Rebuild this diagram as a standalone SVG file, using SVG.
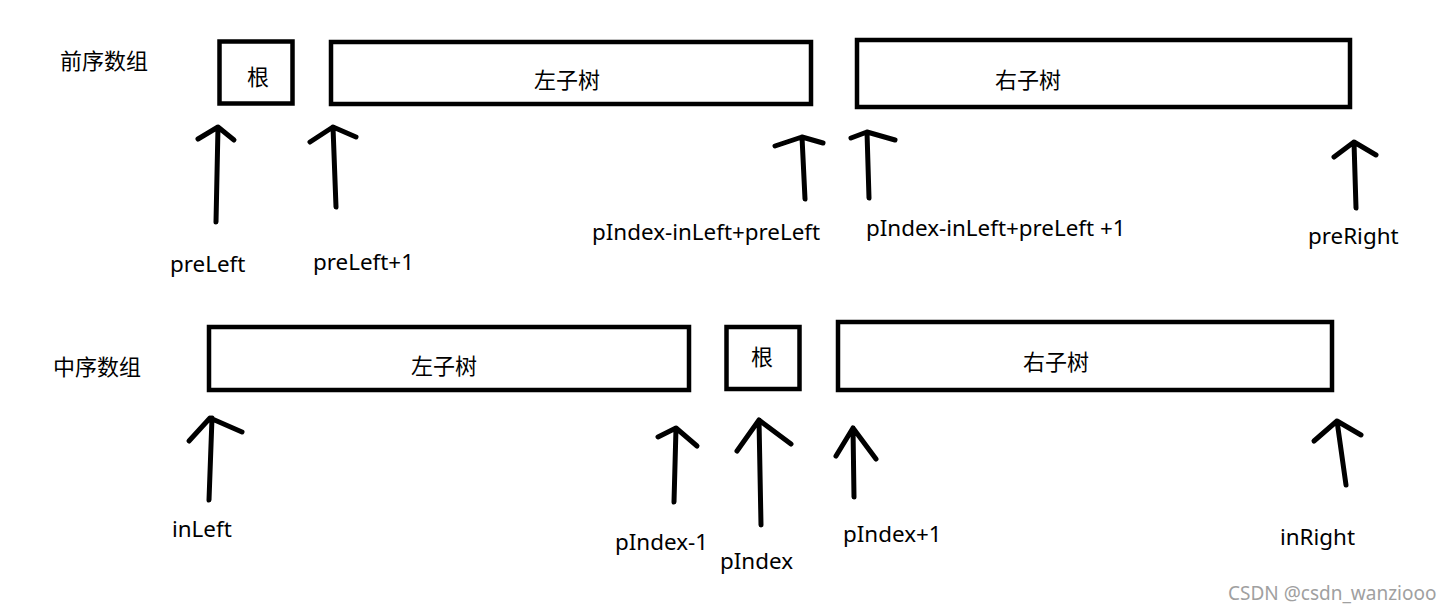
<svg xmlns="http://www.w3.org/2000/svg" width="1451" height="614" viewBox="0 0 1451 614">
<style>
.box{fill:none;stroke:#000;stroke-width:4.5}
.arr{fill:none;stroke:#000;stroke-width:5;stroke-linecap:round;stroke-linejoin:round}
text{font-family:"Noto Sans","Noto Sans CJK SC",sans-serif;font-size:22.4px;fill:#000}
.cjk{font-family:"Noto Sans CJK SC",sans-serif;font-size:22px}
.wm{font-size:19px;fill:#a0a0a0}
</style>
<rect width="1451" height="614" fill="#fff"/>
<g id="label-pre"><text class="cjk" x="60" y="69">前序数组</text></g>
<g id="label-in"><text class="cjk" x="53" y="375">中序数组</text></g>
<g id="pre-root"><rect class="box" x="219.5" y="41.5" width="73" height="62"/><text class="cjk" x="258" y="85" text-anchor="middle">根</text></g>
<g id="pre-left"><rect class="box" x="331" y="42" width="480" height="62"/><text class="cjk" x="567" y="88" text-anchor="middle">左子树</text></g>
<g id="pre-right"><rect class="box" x="857" y="40" width="493" height="67"/><text class="cjk" x="1028" y="88" text-anchor="middle">右子树</text></g>
<g id="in-left"><rect class="box" x="209" y="327" width="480" height="63"/><text class="cjk" x="444" y="374" text-anchor="middle">左子树</text></g>
<g id="in-root"><rect class="box" x="726.5" y="327" width="73" height="62"/><text class="cjk" x="762" y="365" text-anchor="middle">根</text></g>
<g id="in-right"><rect class="box" x="838" y="322" width="494" height="68"/><text class="cjk" x="1056" y="370" text-anchor="middle">右子树</text></g>
<g id="connectors">
<path class="arr" d="M216 222 L218 127 M198 139 L218 127 L234 140"/>
<path class="arr" d="M336 207 L333 127 M310 142 L333 127 L356 137"/>
<path class="arr" d="M805 199 L802 137 M775 146 L802 137 L823 143"/>
<path class="arr" d="M869 198 L867 132 M851 138 L867 132 L895 140"/>
<path class="arr" d="M1356 208 L1354 142 M1334 157 L1354 142 L1376 155"/>
<path class="arr" d="M209 500 L212 418 M189 441 L210 418 L242 432"/>
<path class="arr" d="M674 502 L676 428 M658 437 L676 428 L697 446"/>
<path class="arr" d="M761 525 L759 420 M737 451 L759 420 L791 444"/>
<path class="arr" d="M854 497 L853 428 M836 456 L853 428 L876 459"/>
<path class="arr" d="M1346 485 L1337 421 M1314 441 L1337 421 L1361 435"/>
</g>
<g id="labels">
<text x="170" y="272">preLeft</text>
<text x="313" y="270">preLeft+1</text>
<text x="592" y="240">pIndex-inLeft+preLeft</text>
<text x="866" y="236" font-size="22.6">pIndex-inLeft+preLeft +1</text>
<text x="1308" y="244">preRight</text>
<text x="172" y="537">inLeft</text>
<text x="615" y="550">pIndex-1</text>
<text x="720" y="569">pIndex</text>
<text x="843" y="542">pIndex+1</text>
<text x="1280" y="545">inRight</text>
<text class="wm" x="1228" y="600">CSDN @csdn_wanziooo</text>
</g>
</svg>
